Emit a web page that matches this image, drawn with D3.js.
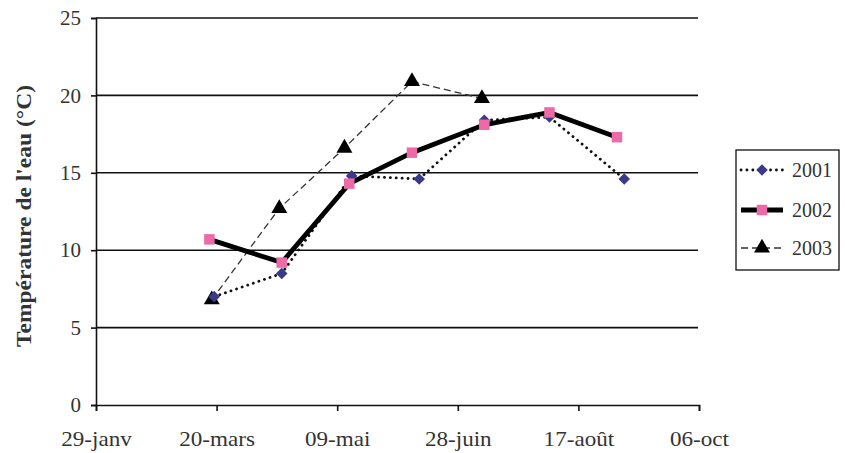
<!DOCTYPE html>
<html><head><meta charset="utf-8">
<script src="https://cdn.jsdelivr.net/npm/d3@7"></script>
<style>body{margin:0;background:#fff}svg{display:block}text{font-family:"Liberation Serif","Times New Roman",serif}</style>
</head><body><svg id="c" width="845" height="453"></svg>
<script>
const xTickLabels = ["29-janv","20-mars","09-mai","28-juin","17-août","06-oct"];
const xTickDates = ["2001-01-29","2001-03-20","2001-05-09","2001-06-28","2001-08-17","2001-10-06"];
const yTicks = [0,5,10,15,20,25];
const seriesNames = ["2001","2002","2003"];
const dates2001 = ["2001-03-19","2001-04-16","2001-05-15","2001-06-12","2001-07-09","2001-08-05","2001-09-05"];
const values2001 = [7.0,8.5,14.8,14.6,18.4,18.6,14.6];
const dates2002 = ["2001-03-17","2001-04-16","2001-05-14","2001-06-09","2001-07-09","2001-08-05","2001-09-02"];
const values2002 = [10.7,9.2,14.3,16.3,18.1,18.9,17.3];
const dates2003 = ["2001-03-18","2001-04-15","2001-05-12","2001-06-09","2001-07-08"];
const values2003 = [6.8,12.7,16.6,20.9,19.8];

const parse = d3.utcParse("%Y-%m-%d");
const svg = d3.select("#c");
const x = d3.scaleUtc().domain([parse(xTickDates[0]), parse(xTickDates[5])]).range([96, 699]);
const y = d3.scaleLinear().domain([0,25]).range([405,18]);

// gridlines
svg.append("g").selectAll("line").data(yTicks.filter(v=>v>0)).join("line")
  .attr("x1",96).attr("x2",698).attr("y1",d=>y(d)).attr("y2",d=>y(d))
  .attr("stroke","#111").attr("stroke-width",1.6);

// y axis
const ya = svg.append("g").attr("transform","translate(96,0)")
  .call(d3.axisLeft(y).tickValues(yTicks).tickSize(5).tickPadding(10));
ya.select(".domain").attr("stroke","#111").attr("stroke-width",1.6);
ya.selectAll(".tick line").attr("stroke-width",1.6).attr("stroke","#111");
ya.selectAll("text").attr("font-size",21).attr("fill","#333");

// x axis
const xa = svg.append("g").attr("transform","translate(0,405)")
  .call(d3.axisBottom(x).tickValues(xTickDates.map(parse)).tickSize(6).tickPadding(10)
    .tickFormat((d,i)=>xTickLabels[i]));
xa.select(".domain").attr("stroke","#111").attr("stroke-width",1.6);
xa.selectAll(".tick line").attr("stroke-width",1.6).attr("stroke","#111");
xa.selectAll("text").attr("font-size",21).attr("fill","#333").attr("y",41).attr("dy",0)
  .attr("textLength",function(){return this.getComputedTextLength()*1.1;}).attr("lengthAdjust","spacingAndGlyphs");

// y label
svg.append("text").attr("transform","translate(31,216) rotate(-90)")
  .attr("text-anchor","middle").attr("font-size",20).attr("font-weight","bold").attr("fill","#333")
  .attr("textLength",262).attr("lengthAdjust","spacingAndGlyphs")
  .text("Température de l'eau (°C)");

const line = d3.line().x(d=>x(d[0])).y(d=>y(d[1]));
const mk = (ds,vs)=>ds.map((d,i)=>[parse(d),vs[i]]);
const s1 = mk(dates2001,values2001), s2 = mk(dates2002,values2002), s3 = mk(dates2003,values2003);

const style = [
  {stroke:"#111", w:2.8, dash:"0.1,5.8", cap:"round", mark:"diamond", fill:"#3a3a8c"},
  {stroke:"#000", w:4.8, dash:null, cap:"butt", mark:"square", fill:"#ee6aa7"},
  {stroke:"#333", w:1.3, dash:"7,4", cap:"butt", mark:"triangle", fill:"#000"}
];
const data = [s1,s2,s3];
const symbolOf = m => m==="diamond" ? d3.symbol().type(d3.symbolDiamond2 || d3.symbolDiamond).size(85)
  : m==="square" ? d3.symbol().type(d3.symbolSquare).size(110)
  : d3.symbol().type(d3.symbolTriangle).size(110);

const order = [2,0,1];
order.forEach(i=>{
  svg.append("path").datum(data[i]).attr("d",line).attr("fill","none")
    .attr("stroke",style[i].stroke).attr("stroke-width",style[i].w)
    .attr("stroke-dasharray",style[i].dash).attr("stroke-linecap",style[i].cap);
});
order.forEach(i=>{
  svg.append("g").selectAll("path").data(data[i]).join("path")
    .attr("transform",d=>`translate(${x(d[0])},${y(d[1])})`)
    .attr("d",symbolOf(style[i].mark)).attr("fill",style[i].fill);
});

// legend
const lg = svg.append("g");
lg.append("rect").attr("x",736).attr("y",150).attr("width",103).attr("height",120)
  .attr("fill","#fff").attr("stroke","#111").attr("stroke-width",1.3);
const ly = [170,210,248];
seriesNames.forEach((n,i)=>{
  lg.append("line").attr("x1",741).attr("x2",783).attr("y1",ly[i]).attr("y2",ly[i])
    .attr("stroke",style[i].stroke).attr("stroke-width",style[i].w)
    .attr("stroke-dasharray",style[i].dash).attr("stroke-linecap",style[i].cap);
  lg.append("path").attr("transform",`translate(762,${ly[i]})`).attr("d",symbolOf(style[i].mark)).attr("fill",style[i].fill);
  lg.append("text").attr("x",792).attr("y",ly[i]+7).attr("font-size",20).attr("fill","#333").text(n);
});
</script></body></html>
